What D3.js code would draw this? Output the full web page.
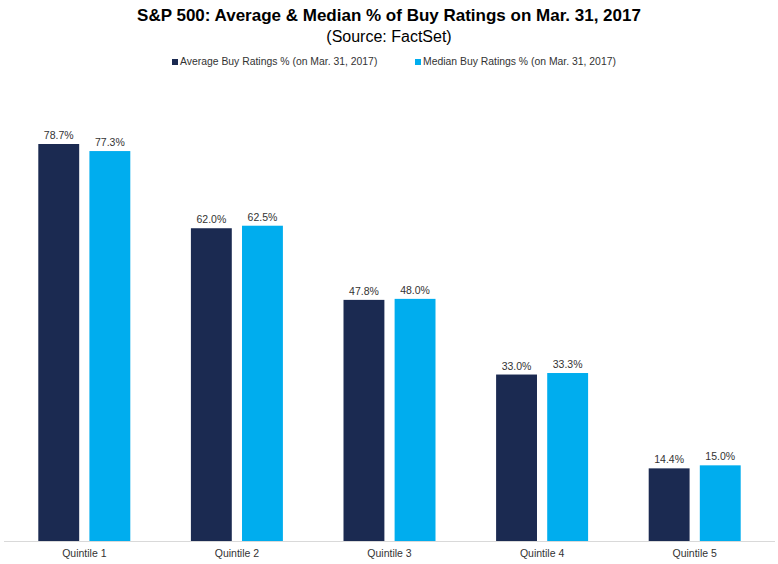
<!DOCTYPE html>
<html>
<head>
<meta charset="utf-8">
<script src="https://cdn.jsdelivr.net/npm/d3@7"></script>
<style>
  body { margin: 0; background: #fff; }
  text { font-family: Arial, "Liberation Sans", sans-serif; }
</style>
</head>
<body>
<svg id="chart" width="778" height="564"></svg>
<script>
// chart data
var categories = ['Quintile 1', 'Quintile 2', 'Quintile 3', 'Quintile 4', 'Quintile 5'];
var seriesNames = ['Average Buy Ratings % (on Mar. 31, 2017)', 'Median Buy Ratings % (on Mar. 31, 2017)'];
var averageValues = [78.7, 62.0, 47.8, 33.0, 14.4];
var medianValues = [77.3, 62.5, 48.0, 33.3, 15.0];

var colors = ['#1b2a51', '#00adee'];

var svg = d3.select('#chart');
var width = 778, height = 564;
var baseline = 541;

// title
svg.append('text')
  .attr('x', 389).attr('y', 21)
  .attr('text-anchor', 'middle')
  .style('font-size', '17px').style('font-weight', 'bold')
  .text('S&P 500: Average & Median % of Buy Ratings on Mar. 31, 2017');

svg.append('text')
  .attr('x', 389).attr('y', 42)
  .attr('text-anchor', 'middle')
  .style('font-size', '16px')
  .text('(Source: FactSet)');

// legend
var legendX = [172, 415];
seriesNames.forEach(function (name, i) {
  var g = svg.append('g').attr('transform', 'translate(' + legendX[i] + ',65)');
  g.append('rect').attr('x', 0).attr('y', -6).attr('width', 6).attr('height', 6).attr('fill', colors[i]);
  g.append('text').attr('x', 8).attr('y', 0)
    .style('font-size', '10.4px').attr('fill', '#333')
    .text(name);
});

// scales
var x0 = d3.scaleBand().domain(categories).range([8, 771]).paddingInner(0).paddingOuter(0);
var x1 = d3.scaleBand().domain([0, 1]).range([0, 92]).paddingInner(0.2);
var y = d3.scaleLinear().domain([0, 78.7]).range([baseline, 144]);

var rows = categories.map(function (c, i) {
  return { cat: c, values: [averageValues[i], medianValues[i]] };
});

var groups = svg.selectAll('.group').data(rows).enter().append('g')
  .attr('class', 'group')
  .attr('transform', function (d) {
    return 'translate(' + (x0(d.cat) + (x0.bandwidth() - 92) / 2) + ',0)';
  });

groups.selectAll('rect').data(function (d) { return d.values; }).enter().append('rect')
  .attr('x', function (d, i) { return x1(i); })
  .attr('y', function (d) { return y(d); })
  .attr('width', x1.bandwidth())
  .attr('height', function (d) { return baseline - y(d); })
  .attr('fill', function (d, i) { return colors[i]; });

groups.selectAll('.val').data(function (d) { return d.values; }).enter().append('text')
  .attr('class', 'val')
  .attr('x', function (d, i) { return x1(i) + x1.bandwidth() / 2; })
  .attr('y', function (d) { return y(d) - 5; })
  .attr('text-anchor', 'middle')
  .style('font-size', '10.5px').attr('fill', '#333')
  .text(function (d) { return d.toFixed(1) + '%'; });

// x axis
var xAxis = d3.axisBottom(x0).tickSize(0).tickPadding(9);
var axisG = svg.append('g').attr('transform', 'translate(0,' + baseline + ')').call(xAxis);
axisG.select('.domain').attr('stroke', '#d9d9d9').attr('d', 'M4,0.5H775');
axisG.selectAll('text')
  .style('font-size', '10.5px').attr('fill', '#333')
  .style('font-family', 'Arial, "Liberation Sans", sans-serif');
</script>
</body>
</html>
